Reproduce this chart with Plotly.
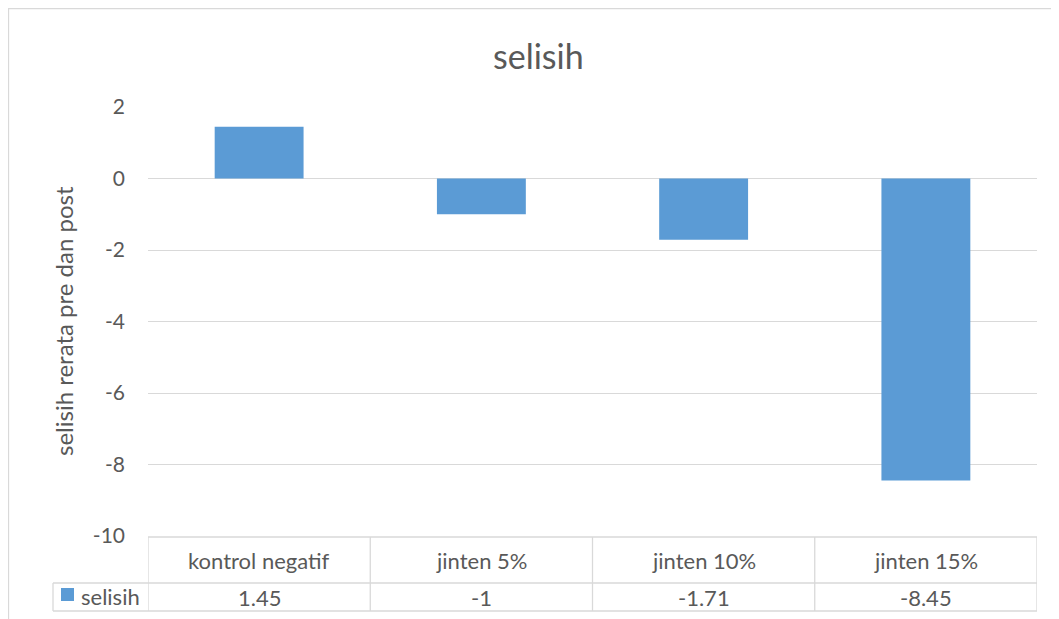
import plotly.graph_objects as go

categories = ["kontrol negatif", "jinten 5%", "jinten 10%", "jinten 15%"]
values = [1.45, -1, -1.71, -8.45]
value_labels = ["1.45", "-1", "-1.71", "-8.45"]
series_name = "selisih"
title_text = "selisih"
y_title = "selisih rerata pre dan post"
y_ticks = [2, 0, -2, -4, -6, -8, -10]

# page has an 8px body margin, so the figure is offset by 8px
OFF = 8
W, H = 1059 - OFF, 619 - OFF
L, R, T, B = 148, 1037, 107, 536  # reference page pixels of the plot area
BAR = "#5B9BD5"
GRID = "#D9D9D9"
TXT = "#595959"
FONT = "Lato, 'Open Sans', sans-serif"


def px(x):
    return (x - L) / (R - L)


def py(y):
    return (B - y) / (B - T)


fig = go.Figure()
fig.add_trace(go.Bar(x=list(range(len(categories))), y=values, name=series_name,
                     marker=dict(color=BAR, line=dict(width=0)), showlegend=False))

shapes = []
# chart border
shapes.append(dict(type="rect", xref="paper", yref="paper", x0=px(8.5), x1=px(1075),
                   y0=py(640), y1=py(8.5), line=dict(color=GRID, width=1.3)))
# table lines
row_top, row_mid, row_bot = 537, 583, 611
leg_left = 53
n = len(categories)
for yy, x0 in ((row_top, L), (row_mid, leg_left), (row_bot, leg_left)):
    shapes.append(dict(type="line", xref="paper", yref="paper", x0=px(x0), x1=1, y0=py(yy), y1=py(yy),
                       line=dict(color=GRID, width=1.3)))
shapes.append(dict(type="line", xref="paper", yref="paper", x0=px(leg_left), x1=px(leg_left),
                   y0=py(row_mid), y1=py(row_bot), line=dict(color=GRID, width=1.3)))
for i in range(n + 1):
    shapes.append(dict(type="line", xref="x", yref="paper", x0=i - 0.5, x1=i - 0.5, y0=py(row_top), y1=py(row_bot),
                       line=dict(color=GRID, width=1.3)))
# legend key
shapes.append(dict(type="rect", xref="paper", yref="paper", x0=px(61), x1=px(74), y0=py(601), y1=py(588),
                   fillcolor=BAR, line=dict(width=0)))


def ann(x, y, text, size, xref="paper", xanchor="center", **kw):
    return dict(x=x, y=y, xref=xref, yref="paper", text=text, showarrow=False,
                xanchor=xanchor, yanchor="middle", font=dict(size=size, color=TXT, family=FONT), **kw)


annotations = []
for i, (c, v) in enumerate(zip(categories, value_labels)):
    annotations.append(ann(i, py(560), c, 22, xref="x"))
    annotations.append(ann(i, py(597), v, 22, xref="x"))
annotations.append(ann(px(79), py(596), series_name, 22, xanchor="left"))
annotations.append(ann(px(538), py(55), title_text, 34))
annotations.append(ann(px(63), py(321), y_title, 24, textangle=-90))

fig.update_layout(
    width=W, height=H,
    margin=dict(l=L - OFF, r=W - (R - OFF), t=T - OFF, b=H - (B - OFF), pad=0),
    paper_bgcolor="white", plot_bgcolor="white",
    bargap=0.6,
    shapes=shapes, annotations=annotations,
    font=dict(family=FONT, color=TXT),
)
fig.update_xaxes(range=[-0.5, n - 0.5], showticklabels=False, showgrid=False, zeroline=False,
                 showline=False, ticks="")
fig.update_yaxes(range=[-10, 2], tickvals=y_ticks, ticktext=[str(t) for t in y_ticks],
                 showgrid=True, gridcolor=GRID, gridwidth=1.3, zeroline=True, zerolinecolor=GRID,
                 zerolinewidth=1.3, showline=False, ticks="", ticklabelstandoff=22,
                 tickfont=dict(size=21, color=TXT, family=FONT))

fig.write_html("out.html")
